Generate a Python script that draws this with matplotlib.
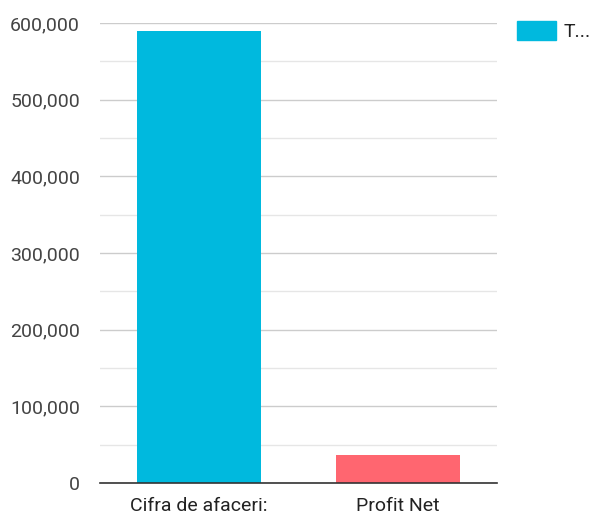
import matplotlib.pyplot as plt
from matplotlib.ticker import FuncFormatter, MultipleLocator

categories = ["Cifra de afaceri:", "Profit Net"]
values = [589000, 37000]
bar_colors = ["#00B9DE", "#FF6670"]
series_label = "T..."

plt.rcParams['font.family'] = ['Roboto', 'DejaVu Sans']

fig = plt.figure(figsize=(5.94, 5.16), dpi=100)
ax = fig.add_axes([100 / 594, 33 / 516, 397 / 594, 460 / 516])

x = range(len(categories))
bars = ax.bar(x, values, width=0.625, color=bar_colors, zorder=3, label=series_label)

ax.set_xlim(-0.5, len(categories) - 0.5)
ax.set_ylim(0, 600000)
ax.yaxis.set_major_locator(MultipleLocator(100000))
ax.yaxis.set_minor_locator(MultipleLocator(50000))
ax.yaxis.set_major_formatter(FuncFormatter(lambda v, p: f"{int(v):,}"))
ax.grid(axis='y', which='major', color='#cccccc', linewidth=1, zorder=0)
ax.grid(axis='y', which='minor', color='#e6e6e6', linewidth=1, zorder=0)

ax.set_xticks(list(x))
ax.set_xticklabels(categories)
ax.tick_params(axis='both', which='both', length=0, labelsize=14, labelcolor='#444444')
ax.tick_params(axis='y', pad=14.5)
ax.tick_params(axis='x', pad=10, labelcolor='#222222')

for side in ['top', 'right', 'left']:
    ax.spines[side].set_visible(False)
ax.spines['bottom'].set_color('#333333')
ax.spines['bottom'].set_linewidth(1.2)
ax.spines['bottom'].set_zorder(4)

handle = plt.Rectangle((0, 0), 1, 1, color=bar_colors[0])
ax.legend([handle], [series_label], loc='upper left', bbox_to_anchor=(517 / 594, 1 - 21 / 516),
          bbox_transform=fig.transFigure, frameon=False, fontsize=14,
          handlelength=2.0, handleheight=1.15, handletextpad=0.4, borderpad=0, borderaxespad=0,
          labelcolor='#222222')

fig.savefig("out.png", dpi=100)
